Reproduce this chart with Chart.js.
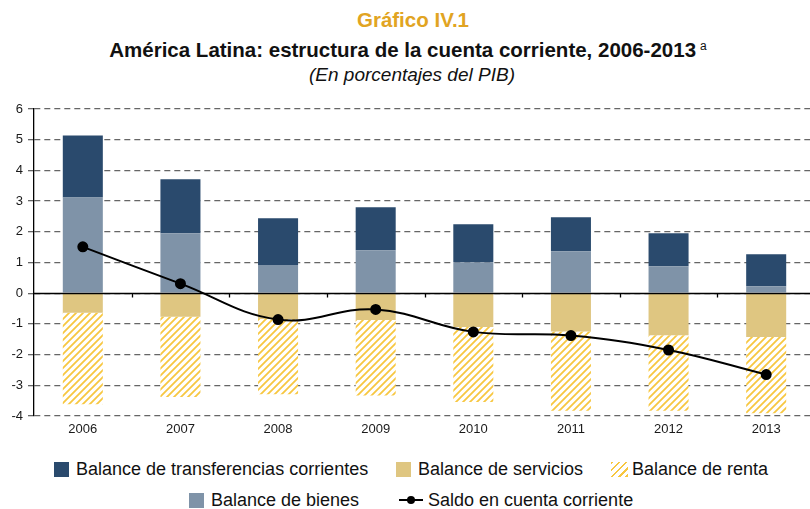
<!DOCTYPE html>
<html lang="es">
<head>
<meta charset="utf-8">
<script src="https://cdn.jsdelivr.net/npm/chart.js@4.4.1/dist/chart.umd.min.js"></script>
<style>
  body { margin: 0; width: 810px; height: 509px; overflow: hidden; background: #fff; position: relative;
         font-family: "Liberation Sans", Arial, sans-serif; color: #111; }
  .title { position: absolute; left: 0; width: 810px; text-align: center; white-space: nowrap; }
  #t1 { top: 10px; left: 8px; color: #e1a422; font: bold 20.5px/20.5px "Liberation Sans", Arial, sans-serif; }
  #t2 { top: 35.5px; left: 3px; font: bold 20.5px/20.5px "Liberation Sans", Arial, sans-serif; }
  #t2 sup { font-weight: normal; font-size: 12px; vertical-align: 7px; margin-left: 4px; }
  #t3 { top: 65px; left: 7px; font: italic 19px/19px "Liberation Sans", Arial, sans-serif; }
  #chart { position: absolute; left: 0; top: 95px; }
  .lg { position: absolute; display: flex; align-items: center; white-space: nowrap;
        font: 18px/18px "Liberation Sans", Arial, sans-serif; color: #111; }
  .sw { width: 15px; height: 15px; margin-right: 7px; }
  .hatch { width: 17px; background: repeating-linear-gradient(135deg, #f7c740 0 2px, #fff 2px 5px); margin-right: 4px; }
  .ln { width: 24px; height: 2px; background: #000; position: relative; margin-right: 5px; }
  .ln::after { content: ""; position: absolute; left: 8px; top: -3px; width: 8px; height: 8px; border-radius: 50%; background: #000; }
</style>
</head>
<body>
<div class="title" id="t1">Gráfico IV.1</div>
<div class="title" id="t2">América Latina: estructura de la cuenta corriente, 2006-2013<sup>a</sup></div>
<div class="title" id="t3">(En porcentajes del PIB)</div>
<canvas id="chart" width="822" height="350"></canvas>
<div class="lg" style="left:54px; top:460px"><div class="sw" style="background:#2a4a6d"></div>Balance de transferencias corrientes</div>
<div class="lg" style="left:396px; top:460px"><div class="sw" style="background:#dfc681"></div>Balance de servicios</div>
<div class="lg" style="left:611px; top:460px"><div class="sw hatch"></div>Balance de renta</div>
<div class="lg" style="left:189px; top:491px"><div class="sw" style="background:#7f93a8"></div>Balance de bienes</div>
<div class="lg" style="left:399px; top:491px"><div class="ln"></div>Saldo en cuenta corriente</div>
<script>
// categorias y series (porcentajes del PIB)
const years = ['2006', '2007', '2008', '2009', '2010', '2011', '2012', '2013'];
const bienes = [3.12, 1.95, 0.92, 1.40, 1.01, 1.37, 0.88, 0.23];
const transferencias = [2.02, 1.76, 1.52, 1.40, 1.24, 1.10, 1.07, 1.04];
const servicios = [-0.64, -0.77, -0.84, -0.87, -1.10, -1.25, -1.37, -1.43];
const renta = [-2.98, -2.61, -2.45, -2.46, -2.44, -2.58, -2.46, -2.48];
const saldo = [1.51, 0.31, -0.86, -0.53, -1.26, -1.38, -1.85, -2.65];
const yTicks = [-4, -3, -2, -1, 0, 1, 2, 3, 4, 5, 6];

const colors = {
    bienes: '#7f93a8',
    transf: '#2a4a6d',
    serv: '#dfc681',
    stripe: '#f7c740',
    grid: '#666',
    text: '#1a1a1a'
};

// hatched fill for "renta"
function hatchPattern() {
    const s = 7;
    const c = document.createElement('canvas');
    c.width = s; c.height = s;
    const g = c.getContext('2d');
    g.fillStyle = '#fff';
    g.fillRect(0, 0, s, s);
    g.strokeStyle = colors.stripe;
    g.lineWidth = 1.8;
    g.beginPath();
    g.moveTo(0, s); g.lineTo(s, 0);
    g.moveTo(-s / 2, s / 2); g.lineTo(s / 2, -s / 2);
    g.moveTo(s / 2, s * 1.5); g.lineTo(s * 1.5, s / 2);
    g.stroke();
    return g.createPattern(c, 'repeat');
}

// solid zero line with small category ticks
const zeroLine = {
    id: 'zeroLine',
    afterDatasetsDraw(chart) {
        const { ctx, chartArea: a, scales: { y } } = chart;
        const y0 = Math.round(y.getPixelForValue(0)) + 0.5;
        const step = (a.right - a.left) / years.length;
        ctx.save();
        ctx.strokeStyle = '#000';
        ctx.lineWidth = 1.3;
        ctx.beginPath();
        ctx.moveTo(a.left, y0);
        ctx.lineTo(a.right, y0);
        for (let i = 1; i < years.length; i++) {
            const x = Math.round(a.left + i * step) + 0.5;
            ctx.moveTo(x, y0);
            ctx.lineTo(x, y0 + 4);
        }
        ctx.stroke();
        ctx.restore();
    }
};

const tickFont = { family: "'Liberation Sans', Arial, sans-serif", size: 13 };

new Chart(document.getElementById('chart'), {
    data: {
        labels: years,
        datasets: [
            { type: 'line', label: 'Saldo en cuenta corriente', data: saldo, stack: 'line', order: 0,
              borderColor: '#000', borderWidth: 2, tension: 0.4, pointRadius: 4.5,
              pointBackgroundColor: '#000', pointBorderColor: '#000' },
            { type: 'bar', label: 'Balance de bienes', data: bienes, stack: 'bars', order: 1, backgroundColor: colors.bienes },
            { type: 'bar', label: 'Balance de transferencias corrientes', data: transferencias, stack: 'bars', order: 1, backgroundColor: colors.transf },
            { type: 'bar', label: 'Balance de servicios', data: servicios, stack: 'bars', order: 1, backgroundColor: colors.serv },
            { type: 'bar', label: 'Balance de renta', data: renta, stack: 'bars', order: 1, backgroundColor: hatchPattern() }
        ]
    },
    options: {
        responsive: false,
        animation: false,
        layout: { padding: { top: 14, right: 7, left: 0, bottom: 0 } },
        datasets: { bar: { categoryPercentage: 1, barPercentage: 0.41 } },
        plugins: { legend: { display: false }, tooltip: { enabled: false } },
        scales: {
            x: {
                stacked: true,
                grid: { display: false, drawTicks: false },
                border: { display: false },
                ticks: { color: colors.text, font: tickFont, padding: 6 },
                afterFit(s) { s.height = 29; }
            },
            y: {
                stacked: true,
                min: -4,
                max: 6,
                afterBuildTicks(s) { s.ticks = yTicks.map(v => ({ value: v })); },
                grid: { color: colors.grid, lineWidth: 1.3, tickLength: 6, tickColor: colors.grid },
                border: { display: true, color: '#000', width: 1.3, dash: [6, 4] },
                ticks: { color: colors.text, font: tickFont, padding: 5 },
                afterFit(s) { s.width = 34; }
            }
        }
    },
    plugins: [zeroLine]
});
</script>
</body>
</html>
